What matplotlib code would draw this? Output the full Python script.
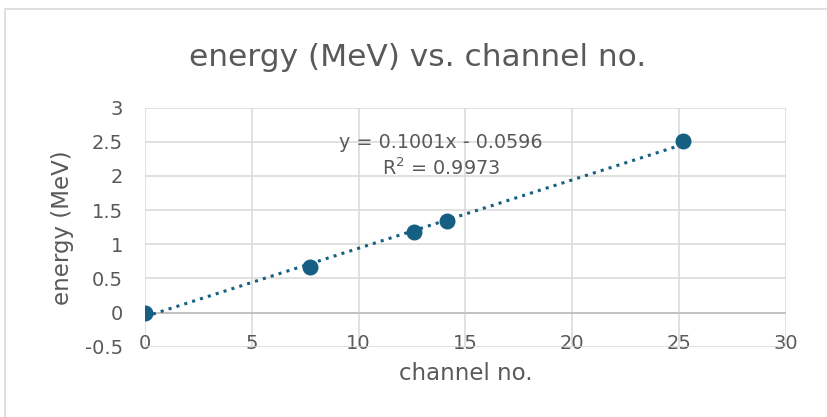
import matplotlib.pyplot as plt
from matplotlib.patches import Rectangle
import numpy as np

# data
channel = [0.0, 7.72, 12.6, 14.12, 25.19]
energy = [0.0, 0.674, 1.18, 1.337, 2.509]
slope, intercept, r2 = 0.1001, -0.0596, 0.9973

x_ticks = [0, 5, 10, 15, 20, 25, 30]
y_ticks = [-0.5, 0, 0.5, 1, 1.5, 2, 2.5, 3]

BLUE = "#156082"
GREY = "#595959"
GRID = "#d9d9d9"

plt.rcParams["font.family"] = ["DejaVu Sans"]

fig = plt.figure(figsize=(8.27, 4.17), dpi=100)
fig.patches.append(Rectangle((5 / 827, -0.1), 1.2, 1 - 9 / 417 + 0.1,
                             transform=fig.transFigure, fill=False,
                             edgecolor=GRID, linewidth=1.2))
ax = fig.add_axes([145 / 827, 1 - 346.7 / 417, (785.7 - 145) / 827, (346.7 - 107.7) / 417])

# trendline
tx = np.array([channel[0], channel[-1]])
ax.plot(tx, slope * tx + intercept, color=BLUE, linewidth=2.2,
        linestyle=(0, (1, 1.7)), zorder=3)
ax.plot(channel, energy, "o", color=BLUE, markersize=10.5, zorder=4)

ax.set_xlim(0, 30)
ax.set_ylim(-0.5, 3)
ax.set_xticks(x_ticks)
ax.set_yticks(y_ticks)
ax.set_xticklabels([f"{v:g}" for v in x_ticks])
ax.set_yticklabels([f"{v:g}" for v in y_ticks])
ax.grid(True, color=GRID, linewidth=1.1)
ax.axhline(0, color="#bfbfbf", linewidth=1.3, zorder=2)
ax.set_axisbelow(True)
for s in ax.spines.values():
    s.set_visible(False)
ax.tick_params(length=0, labelsize=14, labelcolor=GREY)
ax.tick_params(axis="x", pad=-9)
ax.tick_params(axis="y", pad=16)

ax.set_xlabel("channel no.", fontsize=16.5, color=GREY, labelpad=6)
ax.set_ylabel("energy (MeV)", fontsize=16.5, color=GREY, labelpad=8)
fig.text(418 / 827, 1 - 57 / 417, "energy (MeV) vs. channel no.",
         fontsize=22.5, color=GREY, ha="center", va="center")

ax.text(441 / 827, 1 - 142 / 417, f"y = {slope:.4f}x - {abs(intercept):.4f}",
        transform=fig.transFigure, ha="center", va="center",
        fontsize=13.8, color=GREY)
ax.text(441 / 827, 1 - 168 / 417, f"R$^2$ = {r2:.4f}",
        transform=fig.transFigure, ha="center", va="center",
        fontsize=13.8, color=GREY)

fig.savefig("out.png", dpi=100, facecolor="white")
